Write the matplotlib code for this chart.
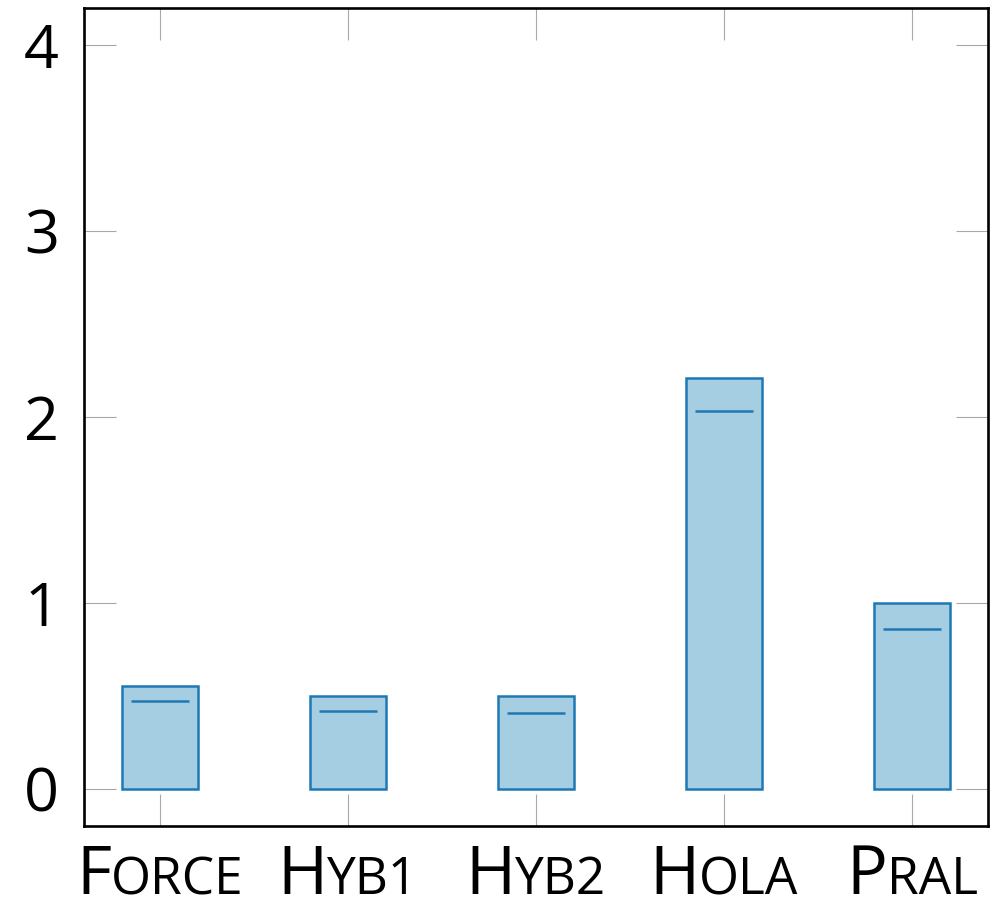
import numpy as np
import matplotlib
matplotlib.use("Agg")
import matplotlib.pyplot as plt
from matplotlib.offsetbox import TextArea, HPacker, AnnotationBbox

# data
methods = ["Force", "Hyb1", "Hyb2", "Hola", "Pral"]
bar_tops = [0.55, 0.50, 0.50, 2.21, 1.00]
medians = [0.47, 0.42, 0.41, 2.03, 0.86]
y_ticks = [0, 1, 2, 3, 4]

plt.rcParams['font.family'] = ['Open Sans', 'DejaVu Sans']

fig = plt.figure(figsize=(10.07, 9.05), dpi=100)
ax = fig.add_axes([0.0834, 0.0873, 0.8977, 0.9044])

x = np.arange(len(methods))
ax.bar(x, bar_tops, width=0.4, color='#a6cee3', edgecolor='#1f78b4',
       linewidth=1.8, zorder=2)
ax.hlines(medians, x - 0.155, x + 0.155, color='#1f78b4', linewidth=1.8, zorder=3)

ax.set_xlim(-0.404, len(methods) - 1 + 0.404)
ax.set_ylim(-0.2, 4.2)
ax.set_yticks(y_ticks)
ax.set_xticks(x)
ax.set_xticklabels([])
ax.tick_params(axis='both', direction='in', length=23, width=0.8, color='#a8a8a8',
               top=True, right=True, labelsize=44)
ax.tick_params(axis='y', pad=18)
for s in ax.spines.values():
    s.set_linewidth(1.9)

# small caps labels: first letter big, the rest smaller caps
for i, name in enumerate(methods):
    big = TextArea(name[0], textprops=dict(fontsize=49))
    small = TextArea(name[1:].upper(), textprops=dict(fontsize=37))
    pack = HPacker(children=[big, small], align="baseline", pad=0, sep=0)
    ab = AnnotationBbox(pack, (i, 0), xycoords=ax.get_xaxis_transform(),
                        xybox=(0, -12), boxcoords="offset points",
                        box_alignment=(0.5, 1), frameon=False,
                        annotation_clip=False)
    ax.add_artist(ab)

plt.savefig('out.png', dpi=100)
